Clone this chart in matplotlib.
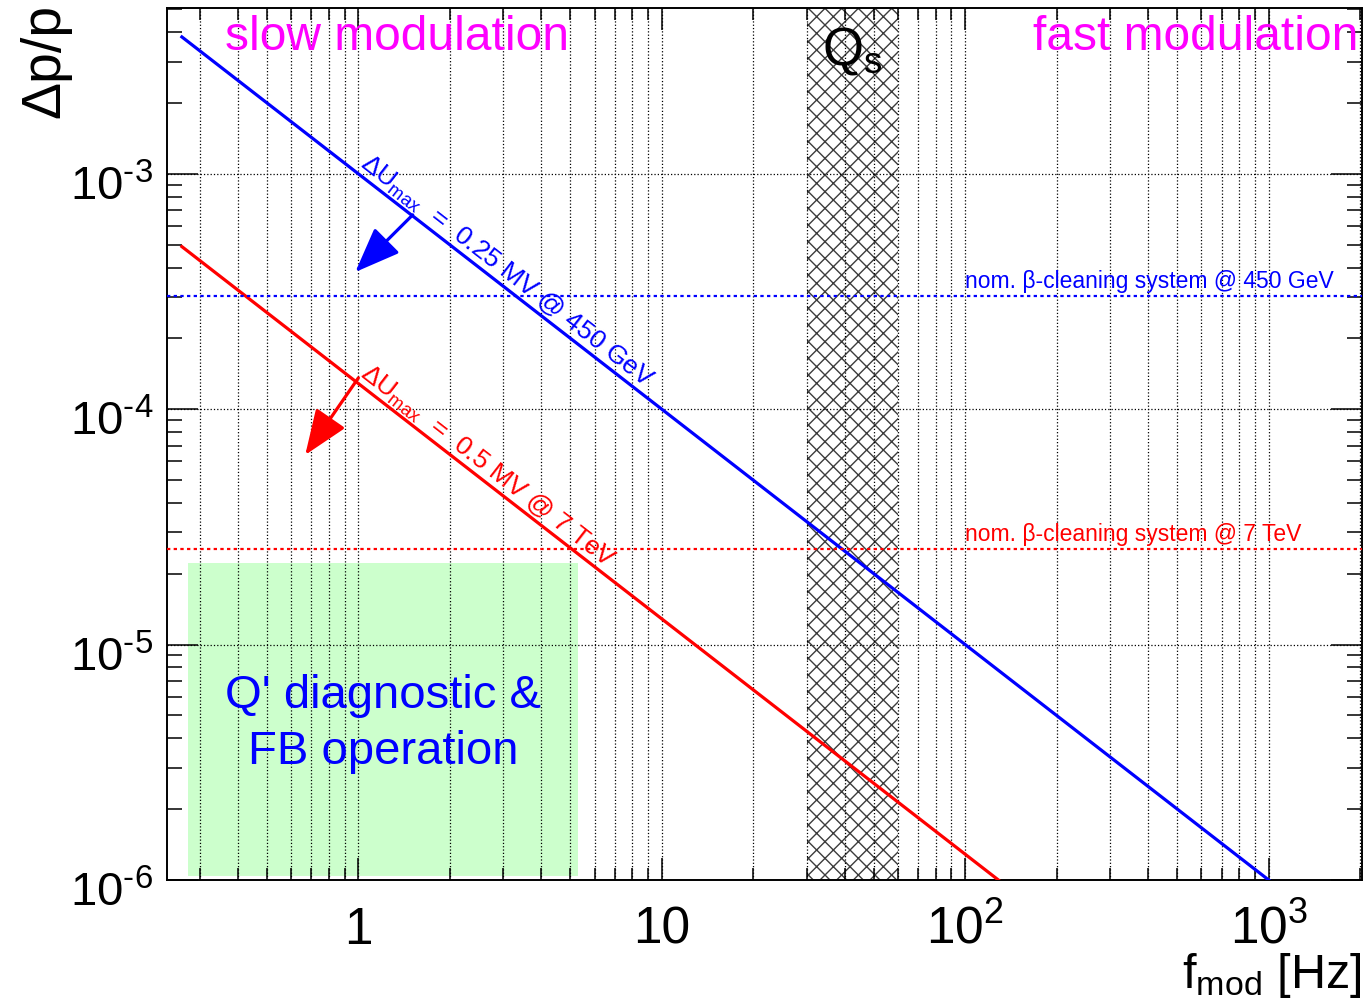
import numpy as np
import matplotlib
matplotlib.use('Agg')
import matplotlib.pyplot as plt
from matplotlib.ticker import LogLocator, NullFormatter
from matplotlib.patches import FancyArrowPatch
from matplotlib.transforms import ScaledTranslation

plt.rcParams.update({
    'font.family': ['Liberation Sans', 'DejaVu Sans'],
    'mathtext.fontset': 'custom',
    'mathtext.rm': 'Liberation Sans',
    'mathtext.it': 'Liberation Sans:italic',
    'mathtext.bf': 'Liberation Sans:bold',
    'hatch.linewidth': 1.0,
})

BLUE = '#0000ff'; RED = '#ff0000'; MAGENTA = '#ff00ff'; GREEN = '#ccffcc'

# ---- data ----
f_blue = [0.262, 1000.0]          # 0.25 MV @ 450 GeV
dp_blue = [3.82e-3, 1.0e-6]
f_red = [0.262, 128.6]            # 0.5 MV @ 7 TeV
dp_red = [4.91e-4, 1.0e-6]

beta_450 = 3.03e-4                # nominal beta-cleaning levels
beta_7tev = 2.55e-5

qs_band = [30.0, 60.0]            # synchrotron frequency band
fb_f = [0.275, 5.3]               # Q' diagnostic / FB box
fb_dp = [1.04e-6, 2.22e-5]

arrow_blue = [(1.51, 6.7e-4), (0.977, 3.83e-4)]
arrow_red = [(1.0, 1.36e-4), (0.668, 6.4e-5)]

xticks = [1, 10, 100, 1000]
xtick_labels = ['1', '10', r'$\mathregular{10^2}$', r'$\mathregular{10^3}$']
yticks = [1e-6, 1e-5, 1e-4, 1e-3]
ytick_labels = [r'$\mathregular{10^{%s6}}$' % u'\u2010',
                r'$\mathregular{10^{%s5}}$' % u'\u2010',
                r'$\mathregular{10^{%s4}}$' % u'\u2010',
                r'$\mathregular{10^{%s3}}$' % u'\u2010']

# ---- figure ----
fig = plt.figure(figsize=(13.65, 9.98), dpi=100)
ax = fig.add_axes([167/1365, 118/998, 1195/1365, 872/998])
ax.set_xscale('log'); ax.set_yscale('log')
ax.set_xlim(0.234, 2030)
ax.set_ylim(1e-6, 5.07e-3)

# shaded regions
ax.fill_between(fb_f, fb_dp[0], fb_dp[1], color=GREEN, lw=0, zorder=0.5)
ax.axvspan(qs_band[0], qs_band[1], facecolor='white', edgecolor='#3c3c3c',
           hatch='xx', lw=0, zorder=0.8)

# lines
ax.plot(f_blue, dp_blue, color=BLUE, lw=2.3, zorder=3)
ax.plot(f_red, dp_red, color=RED, lw=2.3, zorder=3)
ax.axhline(beta_450, color=BLUE, lw=1.6, ls=(0, (1.5, 1.5)), zorder=3)
ax.axhline(beta_7tev, color=RED, lw=1.6, ls=(0, (1.5, 1.5)), zorder=3)

# arrows
for (p0, p1), c in [(arrow_blue, BLUE), (arrow_red, RED)]:
    ax.add_patch(FancyArrowPatch(p0, p1, arrowstyle='-|>,head_length=1.4,head_width=0.55',
                                 mutation_scale=20, color=c, lw=2.3,
                                 shrinkA=0, shrinkB=0, zorder=4))

# grid
ax.grid(True, which='major', axis='both', ls=':', color='k', lw=0.9)
ax.grid(True, which='minor', axis='x', ls=':', color='k', lw=0.9)

# ticks
ax.set_xticks(xticks, labels=xtick_labels)
ax.set_yticks(yticks, labels=ytick_labels)
ax.xaxis.set_minor_locator(LogLocator(base=10, subs=np.arange(2, 10)))
ax.yaxis.set_minor_locator(LogLocator(base=10, subs=np.arange(2, 10)))
ax.xaxis.set_minor_formatter(NullFormatter())
ax.yaxis.set_minor_formatter(NullFormatter())
ax.tick_params(which='both', direction='in', top=True, right=True, width=1.1)
ax.tick_params(axis='x', which='major', length=16, pad=46, labelsize=37)
ax.tick_params(axis='x', which='minor', length=8.6)
ax.tick_params(axis='y', which='major', length=22, pad=10, labelsize=34)
ax.tick_params(axis='y', which='minor', length=11)
for t in ax.xaxis.get_major_ticks():
    t.label1.set_verticalalignment('baseline')
shift_down = ScaledTranslation(0, -9/100, fig.dpi_scale_trans)
for t in ax.yaxis.get_major_ticks():
    t.label1.set_transform(t.label1.get_transform() + shift_down)
for s in ax.spines.values():
    s.set_linewidth(1.4)

# texts
ax.text(0.0485, 0.952, 'slow modulation', transform=ax.transAxes,
        color=MAGENTA, fontsize=34.5, ha='left', va='baseline')
ax.text(0.9967, 0.952, 'fast modulation', transform=ax.transAxes,
        color=MAGENTA, fontsize=34.5, ha='right', va='baseline')
ax.text(np.sqrt(qs_band[0] * qs_band[1]), 0.935, r'$\mathregular{Q_s}$',
        transform=ax.get_xaxis_transform(), fontsize=38, ha='center',
        va='baseline')
ax.text(100, beta_450 * 1.03, u'nom. \u03b2-cleaning system @ 450 GeV',
        color=BLUE, fontsize=16.5, ha='left', va='bottom')
ax.text(100, beta_7tev * 1.03, u'nom. \u03b2-cleaning system @ 7 TeV',
        color=RED, fontsize=16.5, ha='left', va='bottom')
ax.text(np.sqrt(fb_f[0] * fb_f[1]), 4.6e-6, "Q' diagnostic &\nFB operation",
        color=BLUE, fontsize=34, ha='center', va='center', linespacing=1.35)

angle = -37.8
ax.text(0.975, 1e-3 / 0.975, r'$\mathregular{\Delta U_{max}}$  =  0.25 MV @ 450 GeV',
        color=BLUE, fontsize=19, rotation=angle, rotation_mode='anchor',
        ha='left', va='bottom')
ax.text(0.975, 1.286e-4 / 0.975, r'$\mathregular{\Delta U_{max}}$  =  0.5 MV @ 7 TeV',
        color=RED, fontsize=19, rotation=angle, rotation_mode='anchor',
        ha='left', va='bottom')

# axis titles
fig.text(45/1365, 1 - 4/998, u'\u0394p/p', fontsize=40, rotation=90,
         ha='center', va='top')
fig.text(1362/1365, 1 - 988/998, r'$\mathregular{f_{mod}}$ [Hz]', fontsize=35,
         ha='right', va='baseline')

fig.savefig('out.png', dpi=100)
